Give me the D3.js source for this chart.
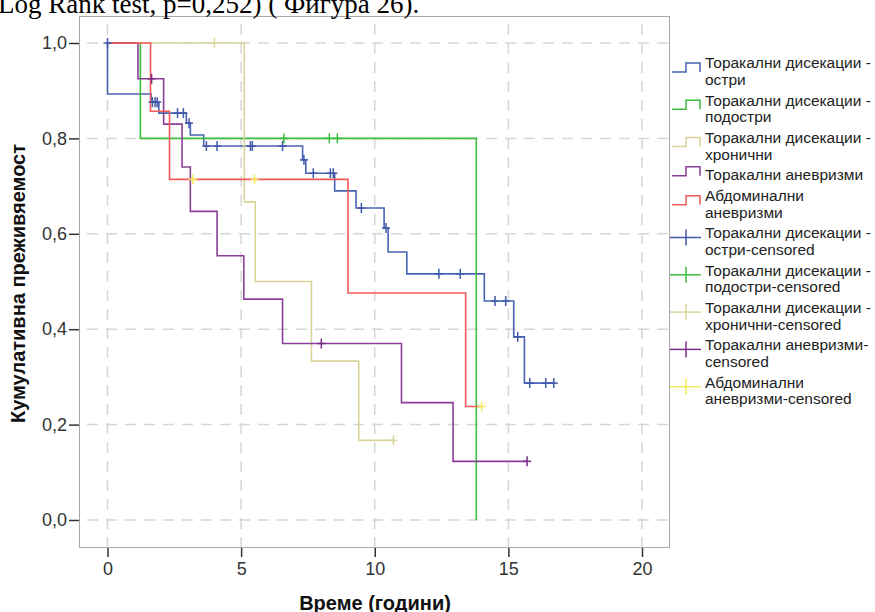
<!DOCTYPE html>
<html>
<head>
<meta charset="utf-8">
<script src="https://cdn.jsdelivr.net/npm/d3@7"></script>
<style>
  body { margin: 0; background: #fff; }
  svg { display: block; }
  .tick text { font-family: "Liberation Sans", Arial, sans-serif; }
</style>
</head>
<body>
<svg id="chart" width="875" height="612"></svg>
<script>
// Текст от документа над графиката
const headerText = "Log Rank test, p=0,252) ( Фигура 26).";

// Оси
const xTicks = [0, 5, 10, 15, 20];
const yTicks = [0, 0.2, 0.4, 0.6, 0.8, 1.0];
const xTitle = "Време (години)";
const yTitle = "Кумулативна преживяемост";

// Стъпки [време, преживяемост след събитието]
const ostriSteps = [[0, 1], [0, 0.893], [1.63, 0.876], [1.92, 0.853], [2.95, 0.832], [3.1, 0.807],
  [3.6, 0.784], [7.3, 0.755], [7.42, 0.727], [8.5, 0.69], [9.3, 0.654], [10.35, 0.612],
  [10.5, 0.562], [11.2, 0.516], [14.1, 0.459], [15.2, 0.384], [15.6, 0.287], [16.7, 0.287]];
const podostriSteps = [[0, 1], [1.23, 0.8], [13.8, 0.8], [13.8, 0]];
const hronichniSteps = [[0, 1], [5.12, 0.667], [5.53, 0.5], [7.63, 0.333], [9.4, 0.167], [10.7, 0.167]];
const anevrizmiSteps = [[0, 1], [1.14, 0.925], [2.1, 0.83], [2.79, 0.74], [3.1, 0.647], [4.1, 0.554],
  [5.1, 0.463], [6.55, 0.37], [11.0, 0.246], [12.93, 0.123], [15.7, 0.123]];
const abdominalniSteps = [[0, 1], [1.61, 0.857], [2.32, 0.714], [9.0, 0.476], [13.4, 0.238], [14.0, 0.238]];

// Цензурирани наблюдения [време, преживяемост]
const ostriCensored = [[0, 1], [1.68, 0.876], [1.78, 0.876], [1.86, 0.876], [2.62, 0.853], [2.84, 0.853],
  [3.05, 0.832], [3.7, 0.784], [4.1, 0.784], [5.35, 0.784], [5.42, 0.784], [6.55, 0.784],
  [7.35, 0.755], [7.7, 0.727], [8.34, 0.727], [8.45, 0.727], [9.5, 0.654], [10.42, 0.612],
  [12.4, 0.516], [13.2, 0.516], [14.5, 0.459], [14.9, 0.459], [15.35, 0.384],
  [15.8, 0.287], [16.4, 0.287], [16.7, 0.287]];
const podostriCensored = [[6.6, 0.8], [8.3, 0.8], [8.6, 0.8]];
const hronichniCensored = [[4.0, 1], [10.7, 0.167]];
const anevrizmiCensored = [[1.65, 0.925], [8.0, 0.37], [15.7, 0.123]];
const abdominalniCensored = [[3.2, 0.714], [5.5, 0.714], [14.0, 0.238]];

const legendLabels = [
  ["Торакални дисекации -", "остри"],
  ["Торакални дисекации -", "подостри"],
  ["Торакални дисекации -", "хронични"],
  ["Торакални аневризми"],
  ["Абдоминални", "аневризми"],
  ["Торакални дисекации -", "остри-censored"],
  ["Торакални дисекации -", "подостри-censored"],
  ["Торакални дисекации -", "хронични-censored"],
  ["Торакални аневризми-", "censored"],
  ["Абдоминални", "аневризми-censored"]
];

const lineColors = ["#4863b4", "#3cbd3c", "#d9d49a", "#8a3e97", "#f45a5a"];
const censorColors = ["#3f58a8", "#3cbd3c", "#d9d49a", "#7a2c88", "#f2ee55"];

const svg = d3.select("#chart");

// Рамка на графиката
const frame = { left: 79, right: 670, top: 16, bottom: 548 };

const x = d3.scaleLinear().domain([0, 20]).range([107.5, 642]);
const y = d3.scaleLinear().domain([0, 1]).range([520, 43]);

svg.append("rect")
  .attr("x", frame.left).attr("y", frame.top)
  .attr("width", frame.right - frame.left).attr("height", frame.bottom - frame.top)
  .attr("fill", "#fff");

// Решетка
const grid = svg.append("g").attr("stroke", "#d6d6d6").attr("stroke-width", 1.5)
  .attr("stroke-dasharray", "11,8");
grid.selectAll(".gx").data(xTicks).enter().append("line")
  .attr("x1", d => x(d)).attr("x2", d => x(d))
  .attr("y1", frame.bottom).attr("y2", frame.top + 1);
grid.selectAll(".gy").data(yTicks).enter().append("line")
  .attr("x1", frame.left + 8).attr("x2", frame.right)
  .attr("y1", d => y(d)).attr("y2", d => y(d));

svg.append("rect")
  .attr("x", frame.left + 0.5).attr("y", frame.top + 0.5)
  .attr("width", frame.right - frame.left - 1).attr("height", frame.bottom - frame.top - 1)
  .attr("fill", "none").attr("stroke", "#a8a8a8").attr("stroke-width", 1);

// Текст от документа (горният ръб е отрязан)
svg.append("text")
  .attr("x", -2)
  .attr("y", 13)
  .attr("font-family", "'Liberation Serif', 'Times New Roman', serif")
  .attr("font-size", 27)
  .attr("fill", "#000")
  .text(headerText);

// Оси
const xAxis = svg.append("g")
  .attr("transform", `translate(0,${frame.bottom})`)
  .call(d3.axisBottom(x).tickValues(xTicks).tickSize(9).tickPadding(5).tickFormat(d3.format("d")));
const yAxis = svg.append("g")
  .attr("transform", `translate(${frame.left},0)`)
  .call(d3.axisLeft(y).tickValues(yTicks).tickSize(10).tickPadding(2)
    .tickFormat(d => d.toFixed(1).replace(".", ",")));
[xAxis, yAxis].forEach(a => {
  a.select(".domain").remove();
  a.selectAll(".tick line").attr("stroke", "#333").attr("stroke-width", 1.5);
  a.selectAll(".tick text").attr("font-size", 18).attr("fill", "#333");
});

svg.append("text")
  .attr("x", 375).attr("y", 610)
  .attr("text-anchor", "middle")
  .attr("font-family", "'Liberation Sans', Arial, sans-serif")
  .attr("font-weight", "bold").attr("font-size", 20)
  .attr("fill", "#111")
  .text(xTitle);

svg.append("text")
  .attr("transform", "translate(24.5,283.5) rotate(-90)")
  .attr("text-anchor", "middle")
  .attr("font-family", "'Liberation Sans', Arial, sans-serif")
  .attr("font-weight", "bold").attr("font-size", 20)
  .attr("fill", "#111")
  .text(yTitle);

// Криви на Каплан-Майер
const steps = [ostriSteps, podostriSteps, hronichniSteps, anevrizmiSteps, abdominalniSteps];
const censored = [ostriCensored, podostriCensored, hronichniCensored, anevrizmiCensored, abdominalniCensored];

const line = d3.line()
  .x(d => x(d[0]))
  .y(d => y(d[1]))
  .curve(d3.curveStepAfter);

const curves = svg.append("g");
steps.forEach((s, i) => {
  curves.append("path")
    .attr("d", line(s))
    .attr("fill", "none")
    .attr("stroke", lineColors[i])
    .attr("stroke-width", 1.6);
});

// Цензурирани маркери (+)
censored.forEach((c, i) => {
  const g = svg.append("g").attr("stroke", censorColors[i]).attr("stroke-width", 1.5);
  c.forEach(d => {
    const cx = x(d[0]), cy = y(d[1]);
    g.append("line").attr("x1", cx - 4).attr("x2", cx + 4).attr("y1", cy).attr("y2", cy);
    g.append("line").attr("x1", cx).attr("x2", cx).attr("y1", cy - 5).attr("y2", cy + 5);
  });
});

// Легенда
const legend = svg.append("g")
  .attr("font-family", "'Liberation Sans', Arial, sans-serif")
  .attr("font-size", 15.5)
  .attr("fill", "#222");
let ly = 63;
const lineH = 16.5;
legendLabels.forEach((lines, i) => {
  const center = ly + (lines.length - 1) * lineH / 2 - 3.75;
  if (i < 5) {
    legend.append("path")
      .attr("d", `M672,${center + 4.5}H686V${center - 4.5}H700V${center + 4.5}`)
      .attr("fill", "none").attr("stroke", lineColors[i]).attr("stroke-width", 1.5);
  } else {
    const c = censorColors[i - 5];
    legend.append("line").attr("x1", 670).attr("x2", 701).attr("y1", center).attr("y2", center)
      .attr("stroke", c).attr("stroke-width", 1.5);
    legend.append("line").attr("x1", 686).attr("x2", 686).attr("y1", center - 8).attr("y2", center + 8)
      .attr("stroke", c).attr("stroke-width", 1.5);
  }
  lines.forEach((t, j) => {
    legend.append("text")
      .attr("x", 705).attr("y", ly + j * lineH)
      .attr("dy", "0.35em")
      .text(t);
  });
  ly += lines.length * lineH + 4.3;
});
</script>
</body>
</html>
